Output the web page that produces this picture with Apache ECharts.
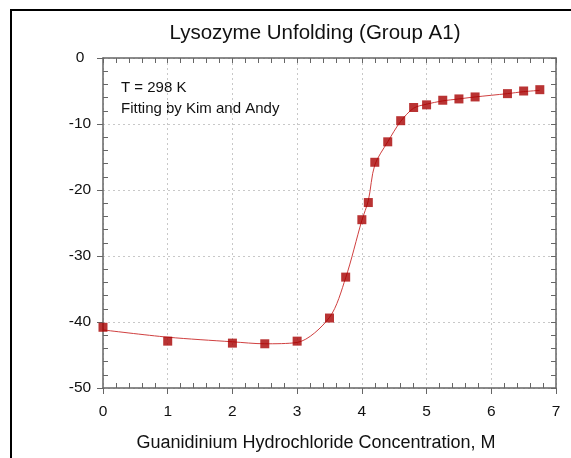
<!DOCTYPE html>
<html>
<head>
<meta charset="utf-8">
<script src="https://cdn.jsdelivr.net/npm/echarts@6/dist/echarts.min.js"></script>
<style>
  html, body { margin: 0; padding: 0; background: #fff; }
  #chart { width: 571px; height: 458px; }
</style>
</head>
<body>
<div id="chart"></div>
<script>
const chartDom = document.getElementById("chart");
let myChart = echarts.init(chartDom);

// measured points
const conc = [0, 1, 2, 2.5, 3, 3.5, 3.75, 4, 4.1, 4.2, 4.4, 4.6, 4.8, 5, 5.25, 5.5, 5.75, 6.25, 6.5, 6.75];
const signal = [-40.8, -42.9, -43.2, -43.3, -42.9, -39.4, -33.2, -24.5, -21.9, -15.8, -12.7, -9.5, -7.5, -7.1, -6.4, -6.2, -5.9, -5.4, -5.0, -4.8];

// fitted curve
const fitX = [0, 1, 2, 2.5, 3, 3.5, 3.75, 4, 4.1, 4.2, 4.4, 4.6, 4.8, 5, 5.25, 5.5, 5.75, 6.25, 6.5, 6.75];
const fitY = [-41.2, -42.3, -43.0, -43.3, -43.1, -39.3, -33.3, -24.6, -21.6, -16.2, -12.7, -9.6, -7.6, -7.0, -6.5, -6.2, -5.9, -5.4, -5.1, -4.9];

const font = "Liberation Sans";
const axisGray = "#666";
const gridGray = "#c8c8c8";

function pairs(xs, ys) {
  return xs.map((x, i) => [x, ys[i]]);
}

let option = {
  animation: false,
  backgroundColor: "#fff",
  textStyle: { fontFamily: font },
  grid: { left: 103, right: 15, top: 58, bottom: 70, containLabel: false },
  graphic: [
    {
      type: "rect",
      shape: { x: 11, y: 10, width: 620, height: 520 },
      style: { fill: "none", stroke: "#000", lineWidth: 2 },
      z: 100
    },
    {
      type: "text",
      x: 315, y: 33,
      style: { text: "Lysozyme Unfolding (Group A1)", fontFamily: font, fontSize: 20.5, fill: "#111", align: "center", verticalAlign: "middle" }
    },
    {
      type: "text",
      x: 121, y: 88,
      style: { text: "T = 298 K", fontFamily: font, fontSize: 15, fill: "#111", verticalAlign: "middle" }
    },
    {
      type: "text",
      x: 121, y: 108.5,
      style: { text: "Fitting by Kim and Andy", fontFamily: font, fontSize: 15, fill: "#111", verticalAlign: "middle" }
    },
    {
      type: "text",
      x: 316, y: 443,
      style: { text: "Guanidinium Hydrochloride Concentration, M", fontFamily: font, fontSize: 18, fill: "#111", align: "center", verticalAlign: "middle" }
    }
  ],
  xAxis: [
    {
      type: "value", position: "bottom", min: 0, max: 7, interval: 1,
      axisLine: { onZero: false, lineStyle: { color: axisGray, width: 1.5 } },
      axisTick: { inside: false, length: 6, lineStyle: { color: axisGray } },
      minorTick: { show: true, splitNumber: 5, length: -5, lineStyle: { color: axisGray } },
      axisLabel: { margin: 16, fontSize: 15.5, color: "#111", fontFamily: font },
      splitLine: { show: true, lineStyle: { color: gridGray, type: [2, 3] } }
    },
    {
      type: "value", position: "top", min: 0, max: 7, interval: 0.2,
      axisLine: { onZero: false, lineStyle: { color: axisGray, width: 1.5 } },
      axisTick: { inside: true, length: 5, lineStyle: { color: axisGray } },
      axisLabel: { show: false },
      splitLine: { show: false }
    }
  ],
  yAxis: [
    {
      type: "value", position: "left", min: -50, max: 0, interval: 10,
      axisLine: { show: true, onZero: false, lineStyle: { color: axisGray, width: 1.5 } },
      axisTick: { show: true, inside: false, length: 6, lineStyle: { color: axisGray } },
      minorTick: { show: true, splitNumber: 5, length: -5, lineStyle: { color: axisGray } },
      axisLabel: { margin: 23, align: "center", fontSize: 15.5, color: "#111", fontFamily: font },
      splitLine: { show: true, lineStyle: { color: gridGray, type: [2, 3] } }
    },
    {
      type: "value", position: "right", min: -50, max: 0, interval: 2,
      axisLine: { show: true, onZero: false, lineStyle: { color: axisGray, width: 1.5 } },
      axisTick: { show: true, inside: true, length: 5, lineStyle: { color: axisGray } },
      axisLabel: { show: false },
      splitLine: { show: false }
    }
  ],
  series: [
    {
      name: "fit",
      type: "line",
      data: pairs(fitX, fitY),
      smooth: 0.3,
      symbol: "none",
      lineStyle: { color: "#d04040", width: 1 },
      z: 2
    },
    {
      name: "data",
      type: "scatter",
      data: pairs(conc, signal),
      symbol: "rect",
      symbolSize: 9,
      itemStyle: { color: "#a80000" },
      z: 3
    }
  ]
};

option && myChart.setOption(option);
</script>
</body>
</html>
